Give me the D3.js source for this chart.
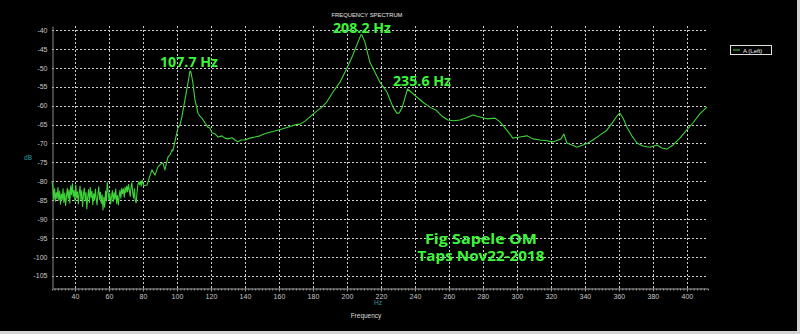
<!DOCTYPE html>
<html>
<head>
<meta charset="utf-8">
<script src="https://cdn.jsdelivr.net/npm/d3@7"></script>
<style>
  html, body { margin: 0; padding: 0; background: #d4d4d4; }
  svg { display: block; }
</style>
</head>
<body>
<svg id="chart" width="800" height="334"></svg>
<script>
// ---------- DATA ----------
const freqHz = [
  26.5,27,27.5,28,28.5,29,29.5,30,30.5,31,31.5,32,32.5,33,33.5,34,34.5,35,35.5,36,36.5,37,37.5,38,38.5,39,39.5,40,
  40.5,41,41.5,42,42.5,43,43.5,44,44.5,45,45.5,46,46.5,47,47.5,48,48.5,49,49.5,50,50.5,51,51.5,52,52.5,53,53.5,54,
  54.5,55,55.5,56,56.5,57,57.5,58,58.5,59,59.5,60,60.5,61,61.5,62,62.5,63,63.5,64,64.5,65,65.5,66,66.5,67,67.5,68,
  68.5,69,69.5,70,70.5,71,71.5,72,72.5,73,73.5,74,74.5,75,75.5,76,76.5,77,77.5,78,78.5,79,79.5,80,80.5,
  82.4,84.1,85.3,87.1,88.8,90.6,91.8,92.9,94.7,95.9,97.1,97.6,99.4,100.6,101.8,102.9,104.7,106.5,107.7,108.2,
  109.4,110.6,112.4,113.5,114.7,116.5,118.2,119.4,120.6,122.4,124.1,126.5,128.2,130,132.4,134.1,135.9,137.6,140,
  142.9,145.9,148.8,151.2,153.5,157.6,161.8,165.3,169.4,172.4,175.3,179.4,182.4,185.3,188.2,191.8,195.9,200,
  203.5,206.5,208.2,208.8,210.6,212.4,213.5,215.3,219.4,223.5,227.1,229.4,230.6,232.4,234.1,235.6,238.2,241.8,
  245.3,248.8,252.4,255.9,259.4,262.9,266.5,270,274.1,278.2,282.4,287.1,290,294.1,297.6,301.8,305.9,309.4,313.5,
  317.6,321.2,324.1,325.9,327.6,329.4,332.4,335.3,338.8,341.8,344.7,348.8,352.9,356.5,358.8,360.6,362.4,364.7,
  367.6,370.6,374.1,378.2,380.6,382.4,385.3,388.2,391.8,395.9,399.4,403.5,407.6,411.8
];
const levelDb = [
  -80.0,-81.5,-84.8,-82.0,-85.3,-83.0,-84.6,-81.7,-85.0,-82.6,-86.1,-83.4,-84.9,-82.0,-85.6,-83.1,-86.4,-84.0,-81.9,-84.7,-82.3,-85.8,-81.2,-83.6,-80.6,-84.1,-82.4,-85.3,
  -81.0,-84.4,-82.8,-86.0,-83.2,-81.3,-84.9,-82.5,-86.7,-83.5,-81.8,-85.2,-83.0,-87.3,-84.1,-82.2,-85.7,-81.6,-84.3,-82.7,-86.2,-83.3,-85.0,-82.1,-84.6,-86.3,-83.4,-81.5,
  -84.8,-82.9,-85.9,-83.6,-87.6,-84.2,-86.9,-82.6,-85.2,-80.3,-82.8,-84.9,-83.1,-86.0,-84.2,-82.5,-85.4,-83.0,-84.8,-82.1,-85.9,-83.7,-86.3,-84.0,-82.4,-84.5,-81.9,-83.3,
  -82.0,-84.2,-81.6,-83.0,-81.3,-82.8,-80.9,-82.4,-84.0,-81.5,-80.4,-83.2,-84.5,-82.0,-85.2,-85.7,-83.1,-81.0,-80.2,-80.9,-80.0,-81.3,-79.7,-80.5,-81.2,
  -81.0,-78.6,-77.0,-78.4,-76.2,-75.4,-75.2,-77.0,-73.6,-73.1,-71.7,-72.0,-68.3,-65.9,-65.1,-63.0,-58.5,-54.0,-50.8,-51.1,
  -54.0,-58.5,-62.0,-62.8,-63.3,-64.6,-65.7,-65.9,-67.2,-67.5,-68.3,-68.0,-68.6,-68.8,-68.5,-69.1,-69.6,-69.1,-69.1,
  -68.6,-68.3,-68.0,-67.5,-67.2,-66.7,-66.2,-65.7,-65.1,-64.9,-64.1,-62.5,-61.4,-60.4,-59.0,-56.4,-53.8,-50.1,
  -46.6,-43.2,-41.3,-41.3,-43.2,-46.6,-48.5,-50.1,-53.8,-56.4,-60.4,-62.0,-62.0,-60.6,-58.0,-55.6,-56.6,-58.0,
  -59.3,-60.4,-61.2,-62.8,-63.8,-64.0,-63.8,-63.3,-62.5,-63.0,-63.5,-63.3,-64.3,-66.5,-68.6,-68.3,-68.0,-68.8,-69.1,
  -69.3,-69.6,-69.1,-68.8,-67.5,-69.9,-70.4,-71.0,-70.4,-69.9,-69.1,-67.8,-66.5,-64.3,-62.8,-62.0,-63.3,-65.7,
  -68.0,-69.9,-70.7,-71.0,-70.7,-70.4,-71.2,-71.5,-70.4,-68.6,-66.7,-64.6,-62.2,-60.4
];
const xTicks = [40,60,80,100,120,140,160,180,200,220,240,260,280,300,320,340,360,380,400];
const yTicks = [-40,-45,-50,-55,-60,-65,-70,-75,-80,-85,-90,-95,-100,-105];
const peakLabels = ["107.7 Hz", "208.2 Hz", "235.6 Hz"];
const peakFreqs = [107.7, 208.2, 235.6];
const noteLines = ["Fig Sapele OM", "Taps Nov22-2018"];
const seriesName = "A (Left)";
const chartTitle = "FREQUENCY SPECTRUM";

// ---------- DRAW ----------
const svg = d3.select("#chart");
svg.append("rect").attr("x", 0).attr("y", 0).attr("width", 797).attr("height", 331).attr("fill", "#000");

const x = d3.scaleLinear().domain([26.5, 412.4]).range([52, 708]);
const y = d3.scaleLinear().domain([-108.25, -38.94]).range([288, 26]);

const gridColor = "#cfcfcf";
// vertical grid
svg.append("g").selectAll("line").data(xTicks).join("line")
  .attr("x1", d => Math.round(x(d)) + 0.5).attr("x2", d => Math.round(x(d)) + 0.5)
  .attr("y1", y.range()[1]).attr("y2", y.range()[0])
  .attr("stroke", gridColor).attr("stroke-width", 1).attr("stroke-dasharray", "2,2");
// horizontal grid
svg.append("g").selectAll("line").data(yTicks).join("line")
  .attr("x1", 52).attr("x2", 708)
  .attr("y1", d => Math.round(y(d)) + 0.5).attr("y2", d => Math.round(y(d)) + 0.5)
  .attr("stroke", gridColor).attr("stroke-width", 1).attr("stroke-dasharray", "2,2");

// x axis minor ticks
const xMinor = svg.append("g").attr("transform", "translate(0,288.5)")
  .call(d3.axisBottom(x).tickValues(d3.range(28, 412, 2)).tickSize(2).tickFormat(""));
xMinor.select(".domain").attr("stroke", "#9a9a9a");
xMinor.selectAll(".tick line").attr("stroke", "#9a9a9a");

// x axis labels
const xAxis = svg.append("g").attr("transform", "translate(0,288.5)")
  .call(d3.axisBottom(x).tickValues(xTicks).tickSize(3).tickPadding(3).tickFormat(d => String(d)));
xAxis.select(".domain").remove();
xAxis.selectAll(".tick line").attr("stroke", "#9a9a9a");
xAxis.selectAll("text").attr("fill", "#c8c8c8").attr("font-size", 7).attr("font-family", "Liberation Sans, Arial, sans-serif");

// y axis
const yAxis = svg.append("g").attr("transform", "translate(52.5,0)")
  .call(d3.axisLeft(y).tickValues(yTicks).tickSize(0).tickPadding(5).tickFormat(d => String(d)));
yAxis.select(".domain").attr("stroke", "#8a8a8a");
yAxis.selectAll("text").attr("fill", "#c8c8c8").attr("font-size", 7).attr("font-family", "Liberation Sans, Arial, sans-serif");

// curve
const pts = freqHz.map((f, i) => [f, levelDb[i]]);
svg.append("path").datum(pts)
  .attr("fill", "none").attr("stroke", "#3fd23a").attr("stroke-width", 1.1)
  .attr("stroke-linejoin", "round")
  .attr("d", d3.line().x(d => x(d[0])).y(d => y(d[1])));

// titles
svg.append("text").attr("x", 367).attr("y", 17).attr("text-anchor", "middle")
  .attr("fill", "#e8e8e8").attr("font-size", 6).attr("font-family", "Liberation Sans, Arial, sans-serif")
  .attr("textLength", 71).attr("lengthAdjust", "spacingAndGlyphs").text(chartTitle);
svg.append("text").attr("x", 378).attr("y", 305).attr("text-anchor", "middle")
  .attr("fill", "#2e9a9a").attr("font-size", 6.5).attr("font-family", "Liberation Sans, Arial, sans-serif").text("Hz");
svg.append("text").attr("x", 366).attr("y", 318).attr("text-anchor", "middle")
  .attr("fill", "#dcdcdc").attr("font-size", 6.5).attr("font-family", "Liberation Sans, Arial, sans-serif").text("Frequency");
svg.append("text").attr("x", 28).attr("y", 160).attr("text-anchor", "middle")
  .attr("fill", "#2e9a9a").attr("font-size", 6.5).attr("font-family", "Liberation Sans, Arial, sans-serif").text("dB");

// legend
const lg = svg.append("g");
lg.append("rect").attr("x", 730.5).attr("y", 45.5).attr("width", 41).attr("height", 9)
  .attr("fill", "#000").attr("stroke", "#e0e0e0").attr("stroke-width", 1);
lg.append("line").attr("x1", 733).attr("x2", 740).attr("y1", 50).attr("y2", 50)
  .attr("stroke", "#3fd23a").attr("stroke-width", 1);
lg.append("text").attr("x", 743).attr("y", 52.5).attr("fill", "#f0f0f0")
  .attr("font-size", 6).attr("font-family", "Liberation Sans, Arial, sans-serif").text(seriesName);

// annotations
const annColor = "#3df53a";
const annPos = [[160, 67], [333, 32.5], [393, 86]];
svg.append("g").selectAll("text").data(peakLabels).join("text")
  .attr("x", (d, i) => annPos[i][0]).attr("y", (d, i) => annPos[i][1])
  .attr("fill", annColor).attr("font-size", 15).attr("font-weight", "bold")
  .attr("font-family", "'Open Sans', Lato, sans-serif")
  .attr("textLength", 58).attr("lengthAdjust", "spacingAndGlyphs")
  .text(d => d);
svg.append("g").selectAll("text").data(noteLines).join("text")
  .attr("x", 481).attr("y", (d, i) => 244 + i * 17).attr("text-anchor", "middle")
  .attr("fill", annColor).attr("font-size", 14).attr("font-weight", "bold")
  .attr("font-family", "'Open Sans', Lato, sans-serif")
  .attr("textLength", (d, i) => i === 0 ? 112 : 127).attr("lengthAdjust", "spacingAndGlyphs")
  .text(d => d);
</script>
</body>
</html>
